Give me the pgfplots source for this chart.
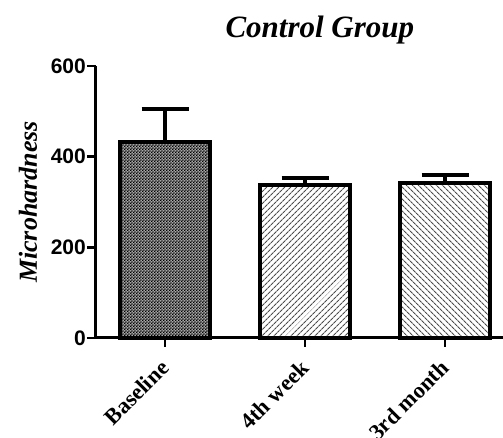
\documentclass[border=0pt]{standalone}
\usepackage{fontspec}
\setmainfont{Liberation Serif}
\setsansfont{Liberation Sans}
\usepackage{pgfplots}
\pgfplotsset{compat=1.18}
\usetikzlibrary{patterns,patterns.meta,calc}
\pgfdeclarepattern{
  name=checker, type=uncolored,
  bottom left={\pgfpoint{0pt}{0pt}}, top right={\pgfpoint{3.3pt}{3.3pt}},
  tile size={\pgfpoint{3.3pt}{3.3pt}},
  code={\pgfpathrectangle{\pgfpoint{0pt}{0pt}}{\pgfpoint{1.65pt}{1.65pt}}
        \pgfpathrectangle{\pgfpoint{1.65pt}{1.65pt}}{\pgfpoint{1.65pt}{1.65pt}}
        \pgfusepath{fill}}}
\begin{document}
\begin{tikzpicture}
\begin{axis}[
  at={(0,0)}, anchor=south west,
  scale only axis, width=407pt, height=272pt,
  xmin=-0.493, xmax=2.414, ymin=0, ymax=600,
  axis x line=bottom, axis y line=left,
  axis line style={-, line width=3pt},
  tick align=outside, major tick length=9pt,
  tick style={line width=2.5pt, black},
  xtick={0,1,2}, xticklabels={Baseline,4th week,3rd month},
  ytick={0,200,400,600},
  /pgf/number format/assume math mode=true,
  yticklabel style={font=\fontsize{21}{21}\selectfont\sffamily\bfseries, inner sep=1pt},
  xticklabel style={xshift=-6pt, yshift=-10pt, font=\fontsize{22.5}{22.5}\selectfont\bfseries, rotate=45, anchor=north east, inner sep=1pt},
  ylabel={Microhardness},
  ylabel style={font=\fontsize{26}{26}\selectfont\bfseries\itshape, at={($(rel axis cs:0,0.5)+(-68pt,0)$)}, anchor=center},
  title={Control Group},
  title style={font=\fontsize{31}{31}\selectfont\bfseries\itshape, at={(rel axis cs:0.55,1)}, anchor=center, yshift=30pt},
  ybar, bar width=90pt, bar shift=0pt,
  clip=false,
  error bars/y dir=plus, error bars/y explicit,
  error bars/error mark=-,
  error bars/error bar style={line width=3.5pt, black},
  error bars/error mark options={rotate=90, line width=3.5pt, mark size=23.5pt, black},
]
\addplot[draw=black, line width=4pt, fill=black!35, postaction={pattern=checker, pattern color=black}]
  coordinates {(0,432) +- (0,73)};
\addplot[draw=black, line width=4pt, pattern={Lines[angle=45,distance=4pt,line width=1.2pt]}, pattern color=black!70]
  coordinates {(1,338) +- (0,15)};
\addplot[draw=black, line width=4pt, pattern={Lines[angle=-45,distance=4pt,line width=1.2pt]}, pattern color=black!70]
  coordinates {(2,342) +- (0,18)};
\end{axis}
\pgfresetboundingbox
\path (-96pt,-100pt) rectangle (407pt,338pt);
\end{tikzpicture}
\end{document}
